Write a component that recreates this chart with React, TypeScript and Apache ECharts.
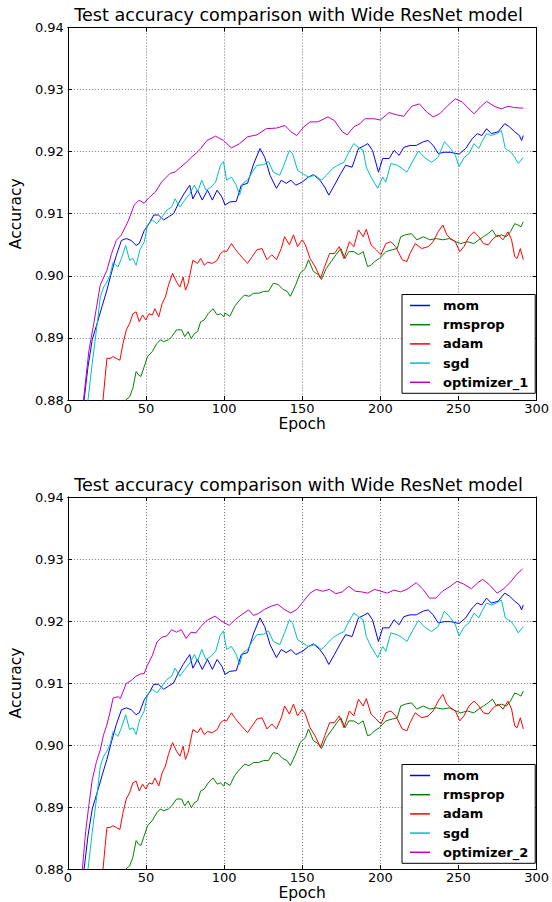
import React, { useEffect, useRef } from "react";
import * as echarts from "echarts";

const FONT = "DejaVu Sans";

const chartTitle = "Test accuracy comparison with Wide ResNet model";
const xTicks = { min: 0, max: 300, interval: 50 };
const yTicks = { min: 0.88, max: 0.94, interval: 0.01 };

const momData = [[1,0.835],[5,0.858],[8,0.872],[10.4,0.88],[12.9,0.8854],[15.6,0.8897],[18.7,0.8923],[21.8,0.895],[25,0.8977],[28,0.9006],[31,0.9033],[34.3,0.9057],[37.4,0.906],[40.5,0.9057],[43.7,0.9049],[45.7,0.9052],[48.9,0.9073],[52,0.9084],[55,0.9098],[58,0.9098],[61.3,0.909],[64.4,0.9095],[67.6,0.91],[70.7,0.9116],[73.8,0.913],[78,0.9146],[80,0.9124],[83,0.9138],[86,0.9122],[89.4,0.9138],[92.5,0.9122],[95.5,0.9138],[98.6,0.9127],[100.6,0.9114],[103.7,0.9119],[107.8,0.912],[111,0.9146],[115,0.9149],[119,0.9181],[123,0.9205],[126,0.9191],[129.4,0.9162],[133.5,0.9141],[136.6,0.9154],[139.7,0.9149],[142.8,0.9154],[145.9,0.9146],[150,0.9151],[154,0.9159],[157.2,0.9163],[161.3,0.9154],[164.4,0.9143],[167,0.913],[170.6,0.9146],[174.7,0.9165],[177.8,0.9178],[181.9,0.9175],[186,0.9205],[190,0.921],[192,0.9213],[195,0.9202],[198.8,0.9167],[201.5,0.9189],[205.6,0.9189],[208.8,0.9202],[212,0.9194],[215,0.9207],[219,0.921],[223,0.921],[227.5,0.9216],[230.6,0.9218],[233.8,0.921],[237,0.9197],[241,0.9199],[245,0.9199],[250.4,0.9196],[254.6,0.9205],[258.8,0.9221],[262,0.9229],[265,0.9226],[268,0.9237],[271,0.9229],[275.4,0.9232],[279.6,0.9245],[282.7,0.924],[286,0.9232],[289,0.9226],[290.4,0.9218],[291.5,0.9226]];

const rmspropData = [[1,0.82],[20,0.857],[30,0.871],[37,0.88],[39.5,0.8805],[41.6,0.8819],[43.7,0.8846],[45.3,0.884],[46.8,0.8838],[48.9,0.8854],[51,0.887],[54,0.8878],[57,0.8891],[59.3,0.8897],[61.3,0.8894],[64.4,0.8897],[66.5,0.8902],[69.6,0.8913],[72.8,0.8913],[74.8,0.8902],[77,0.891],[79,0.8899],[81,0.8907],[83,0.891],[85,0.8926],[87.3,0.8929],[89.8,0.8939],[92.9,0.8947],[95.6,0.8937],[97.7,0.8939],[99.8,0.8934],[100.6,0.894],[103.7,0.8935],[106.8,0.8951],[110,0.8961],[113,0.8969],[116,0.8967],[119,0.8972],[122.2,0.8972],[125.3,0.8975],[128.4,0.8975],[131.5,0.8988],[134.6,0.8986],[137.7,0.8978],[140.3,0.8975],[142.4,0.8967],[145.9,0.8986],[148.6,0.9004],[152,0.9012],[154,0.9026],[157.2,0.9007],[160.3,0.9002],[162.3,0.8994],[165.4,0.9012],[168.5,0.9023],[171.6,0.9034],[174.7,0.9044],[177.4,0.9028],[179.8,0.9039],[183,0.9039],[186,0.9034],[189,0.9039],[191.8,0.9015],[194,0.9017],[196.3,0.9023],[199.4,0.9028],[203.5,0.9039],[207.7,0.9042],[210.8,0.9044],[213,0.9063],[216,0.9066],[220,0.9068],[223.3,0.9058],[227.5,0.9063],[231.7,0.9058],[235.8,0.906],[240,0.9058],[244,0.906],[248.3,0.9055],[251.5,0.9052],[255.6,0.9055],[259.8,0.9052],[263,0.9058],[266,0.9063],[269,0.9068],[271.7,0.9074],[274.4,0.9063],[277.5,0.9066],[280.6,0.9063],[283.3,0.9071],[286,0.9084],[288,0.9082],[290,0.9079],[291.5,0.9087]];

const adamData = [[1,0.83],[10,0.852],[18,0.871],[22.5,0.88],[23.9,0.8838],[25,0.8867],[27,0.8867],[29,0.887],[31,0.8867],[33.3,0.8864],[35.3,0.8891],[37.4,0.8913],[39.5,0.8923],[41.6,0.8939],[43.7,0.8942],[45.7,0.8926],[47.8,0.8937],[49.9,0.8929],[52,0.8939],[54,0.8937],[55.7,0.8947],[58.2,0.8934],[60.3,0.8955],[62.4,0.8966],[64.4,0.8985],[67,0.9004],[69.6,0.899],[71.7,0.8982],[73.8,0.8998],[75.3,0.8977],[77,0.8988],[80,0.9025],[83,0.902],[85,0.9028],[87.3,0.9017],[89.4,0.9022],[92.5,0.902],[95.6,0.9025],[97.7,0.9036],[99.8,0.904],[101.6,0.9039],[104.7,0.9052],[106.8,0.9044],[110,0.9034],[115,0.902],[118,0.9031],[121,0.9042],[124.3,0.9044],[127.4,0.9026],[130.5,0.9034],[133.5,0.9026],[136.6,0.9044],[138.7,0.9063],[141.8,0.905],[144.4,0.9066],[147,0.9047],[150,0.9058],[152,0.905],[155,0.9028],[158.2,0.9015],[161.7,0.8996],[164.4,0.9015],[167.5,0.9036],[170.6,0.9036],[173.7,0.9047],[176.7,0.9028],[180.2,0.9055],[183,0.9047],[186,0.9074],[189,0.9063],[191,0.9075],[194,0.905],[197.3,0.9042],[200.4,0.9034],[203.5,0.9052],[206.7,0.9055],[209.8,0.9047],[214,0.9026],[217,0.9023],[219,0.9036],[222.3,0.9052],[226.5,0.9044],[230.6,0.9047],[233.8,0.9055],[237,0.9071],[240,0.9082],[242.5,0.9066],[245,0.906],[248,0.9055],[250.8,0.9039],[253.5,0.9047],[256.7,0.9063],[260,0.9071],[263,0.9063],[266,0.9052],[269,0.905],[272.3,0.906],[275.4,0.9066],[278.5,0.9058],[281.7,0.9071],[284,0.9058],[286,0.9031],[287.5,0.9028],[289.6,0.9044],[291.5,0.9026]];

const sgdData = [[1,0.83],[5,0.852],[9,0.868],[12.9,0.88],[15.6,0.8859],[18.3,0.8913],[20.8,0.8966],[22.9,0.8982],[25,0.899],[27,0.9001],[29,0.9022],[32,0.9014],[34.3,0.9028],[37,0.9049],[39.5,0.9025],[41.6,0.9028],[43.7,0.9017],[46,0.9041],[48.9,0.9055],[51,0.9082],[54,0.909],[57,0.9084],[60.3,0.9095],[63.4,0.9106],[66.5,0.9111],[68.6,0.9124],[71.7,0.9111],[74.8,0.9122],[78,0.9132],[81,0.9146],[83,0.9135],[85.7,0.9154],[88.4,0.9138],[91.5,0.9143],[94.6,0.9151],[97.5,0.9177],[99.6,0.9184],[101.6,0.9154],[104.7,0.9159],[107.8,0.9146],[109.9,0.913],[112,0.9149],[115,0.9154],[118,0.9167],[121,0.9178],[125.3,0.9179],[128.4,0.9184],[131.5,0.9167],[135.6,0.9162],[139,0.9183],[141.8,0.9202],[143.8,0.9197],[147,0.917],[150,0.9165],[154,0.9159],[158.2,0.9162],[162.3,0.9154],[165.4,0.9162],[169.5,0.9173],[172.6,0.9178],[176.7,0.9183],[179.8,0.9199],[183,0.9213],[186,0.9207],[189,0.9202],[191,0.9175],[194,0.9159],[198.3,0.9141],[201.5,0.9159],[203.5,0.9151],[206.7,0.9181],[210.8,0.9178],[214,0.9173],[217,0.9167],[221,0.9186],[224.4,0.9201],[228.5,0.919],[232.7,0.9183],[237,0.9191],[241,0.9216],[245,0.9205],[248,0.9194],[250.4,0.9176],[253.5,0.919],[256.7,0.9197],[260,0.9213],[263,0.9205],[265,0.9216],[268,0.9229],[271,0.9226],[274.4,0.9229],[277.5,0.9234],[280,0.9205],[283.7,0.9199],[286,0.9191],[288.3,0.9181],[291.5,0.9191]];

const optimizer1Data = [[1,0.835],[5,0.858],[8,0.872],[10,0.88],[13.5,0.888],[16.6,0.8923],[20.7,0.8985],[25,0.9009],[28,0.9036],[31,0.9057],[34,0.9065],[38.4,0.9087],[42.5,0.9114],[45.6,0.9122],[48.8,0.9117],[52,0.9126],[56,0.9135],[60,0.9151],[65.4,0.9165],[68.5,0.9167],[71.7,0.9174],[76,0.9183],[79,0.9191],[82,0.9197],[85,0.9205],[89,0.9218],[94.5,0.9225],[99.6,0.9218],[104.7,0.9206],[110,0.9213],[115,0.9224],[121,0.9227],[127,0.9237],[133.5,0.9238],[139,0.9242],[142.8,0.9232],[146.5,0.9226],[151,0.924],[155,0.9248],[160,0.9248],[166.5,0.9256],[170.6,0.925],[175.7,0.9232],[178.8,0.9227],[183,0.924],[187,0.9245],[190,0.9253],[194,0.9253],[196,0.9253],[200,0.9251],[205.6,0.9263],[210.8,0.9259],[215,0.9257],[220,0.9273],[225,0.9277],[229.6,0.9264],[233.8,0.9256],[238,0.9261],[243,0.9274],[248,0.9285],[252.5,0.928],[256.7,0.9269],[260,0.9261],[264,0.9272],[268,0.9281],[273,0.9273],[277.5,0.9269],[281.7,0.9273],[286,0.9271],[291.5,0.927]];

const optimizer2Data = [[1,0.835],[5,0.858],[7.5,0.872],[9.3,0.88],[11.4,0.8861],[13.5,0.8904],[15.6,0.8944],[18.3,0.8973],[20.7,0.8992],[22.8,0.9016],[24.9,0.9032],[27,0.9053],[29,0.9076],[32.2,0.9078],[33.6,0.9075],[35.3,0.9086],[37.3,0.9099],[40.5,0.9104],[43.6,0.9111],[46.7,0.9115],[48.8,0.9115],[50.8,0.9128],[54,0.9144],[57,0.9166],[60.2,0.9174],[63.3,0.9176],[66.4,0.9186],[69.5,0.9182],[72.6,0.9186],[75.7,0.9172],[78.8,0.9182],[82,0.9181],[85,0.9191],[89,0.9201],[94.2,0.9208],[98.3,0.92],[103.3,0.9193],[107.4,0.9203],[111.6,0.9211],[115.7,0.9218],[118.8,0.9209],[121.9,0.9212],[126,0.9219],[130.2,0.9224],[134.3,0.9227],[138.4,0.9219],[142.6,0.9213],[146.7,0.9219],[150.8,0.9232],[155,0.9245],[159,0.9251],[163.2,0.9248],[167.4,0.9251],[171.5,0.9244],[175.6,0.9247],[179.8,0.9256],[183.9,0.9248],[188,0.9247],[192,0.9245],[196.3,0.9251],[200.4,0.9248],[204.5,0.9245],[208.7,0.925],[212.8,0.9247],[217,0.9251],[223,0.9262],[227.3,0.9251],[231.4,0.9237],[235.5,0.9237],[239.7,0.9248],[244.8,0.9256],[249,0.9264],[253,0.926],[258.3,0.9252],[262.4,0.9262],[265.5,0.9267],[269.6,0.9259],[274.8,0.9245],[279,0.9252],[283,0.9262],[287.2,0.9275],[291,0.9284]];

const seriesNames1 = ["mom", "rmsprop", "adam", "sgd", "optimizer_1"];
const seriesNames2 = ["mom", "rmsprop", "adam", "sgd", "optimizer_2"];
const seriesColors = ["#0000ff", "#008000", "#ff0000", "#00bfbf", "#bf00bf"];

const PLOT_LEFT = 58;
const PLOT_WIDTH = 481;
const panels = [
  { top: 27.5, height: 372.5, names: seriesNames1, data: [momData, rmspropData, adamData, sgdData, optimizer1Data], legendTop: 294.5 },
  { top: 497, height: 374, names: seriesNames2, data: [momData, rmspropData, adamData, sgdData, optimizer2Data], legendTop: 764.5 },
];

function buildOption() {
  const grid: any[] = [];
  const xAxis: any[] = [];
  const yAxis: any[] = [];
  const series: any[] = [];
  const legend: any[] = [];
  const graphic: any[] = [];
  const frameLine = { show: true, onZero: false, lineStyle: { color: "#000", width: 1 } };
  const tick = { show: true, inside: true, length: 4, lineStyle: { color: "#000", width: 1 } };
  const gridLine = { show: true, lineStyle: { color: "#7a7a7a", type: [1, 2], width: 1 } };
  const labelStyle = { fontFamily: FONT, fontSize: 13, color: "#000" };
  const nameStyle = { fontFamily: FONT, fontSize: 15.5, color: "#000" };

  panels.forEach((p, g) => {
    grid.push({ left: PLOT_LEFT, top: p.top, width: PLOT_WIDTH, height: p.height, containLabel: false });
    xAxis.push({
      gridIndex: g, type: "value", position: "bottom", ...xTicks,
      name: "Epoch", nameLocation: "middle", nameGap: 14,
      nameTextStyle: nameStyle,
      axisLine: frameLine, axisTick: tick,
      axisLabel: { ...labelStyle, margin: 2 },
      splitLine: gridLine,
    });
    xAxis.push({
      gridIndex: g, type: "value", position: "top", ...xTicks,
      axisLine: frameLine, axisTick: tick, axisLabel: { show: false }, splitLine: { show: false },
    });
    yAxis.push({
      gridIndex: g, type: "value", position: "left", ...yTicks,
      name: "Accuracy", nameLocation: "middle", nameGap: 33, nameRotate: 90,
      nameTextStyle: nameStyle,
      axisLine: frameLine, axisTick: tick,
      axisLabel: { ...labelStyle, margin: 4, formatter: (v: number) => v.toFixed(2) },
      splitLine: gridLine,
    });
    yAxis.push({
      gridIndex: g, type: "value", position: "right", ...yTicks,
      axisLine: frameLine, axisTick: tick, axisLabel: { show: false }, splitLine: { show: false },
    });
    p.names.forEach((name, i) => {
      series.push({
        type: "line", name, xAxisIndex: g * 2, yAxisIndex: g * 2,
        data: p.data[i], showSymbol: false, symbol: "none", clip: true,
        lineStyle: { color: seriesColors[i], width: 1 },
        itemStyle: { color: seriesColors[i] },
        emphasis: { disabled: true },
      });
    });
    legend.push({
      orient: "vertical", left: 402, top: p.legendTop,
      data: p.names, icon: "rect", itemWidth: 20, itemHeight: 1.5, itemGap: 5.2,
      padding: [4, 7, 4, 8],
      borderColor: "#000", borderWidth: 1, backgroundColor: "#fff",
      selectedMode: false,
      textStyle: { fontFamily: FONT, fontWeight: "bold", fontSize: 13, color: "#000", lineHeight: 14, padding: [0, 0, 0, 8] },
    });
    graphic.push({
      type: "text", x: PLOT_LEFT + PLOT_WIDTH / 2, y: p.top - 12.5,
      style: { text: chartTitle, font: `17.6px "${FONT}"`, fill: "#000", textAlign: "center", textVerticalAlign: "middle" },
    });
  });

  return { animation: false, backgroundColor: "#fff", grid, xAxis, yAxis, series, legend, graphic };
}

export default function App() {
  const ref = useRef<HTMLDivElement>(null);
  useEffect(() => {
    document.body.style.margin = "0";
    if (!ref.current) return;
    const chart = echarts.init(ref.current, undefined, { renderer: "svg" });
    chart.setOption(buildOption());
    return () => chart.dispose();
  }, []);
  return <div ref={ref} style={{ width: 552, height: 902 }} />;
}
